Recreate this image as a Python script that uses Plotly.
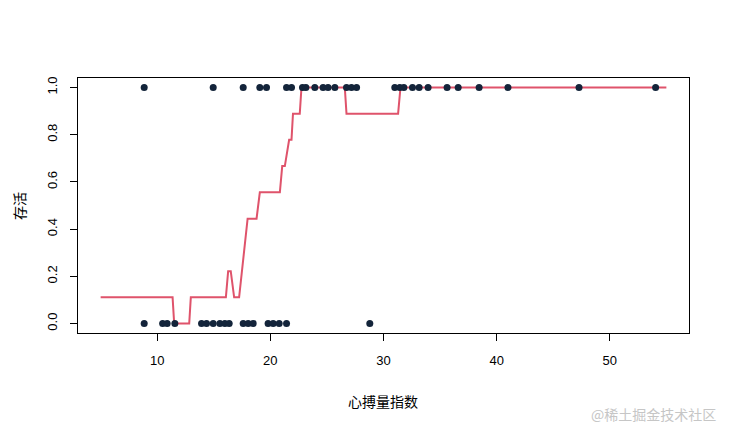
import plotly.graph_objects as go

# Observed points (survived = 1 / died = 0)
x_alive = [8.85, 14.95, 17.6, 19.07, 19.66, 21.43, 21.87, 22.84, 23.14, 23.93, 24.66, 25.1,
           25.7, 26.73, 27.17, 27.62, 31.0, 31.44, 31.8, 32.56, 33.15, 33.94, 35.62, 36.6,
           38.45, 41.0, 47.28, 54.05]
y_alive = [1] * len(x_alive)
x_dead = [8.85, 10.48, 10.88, 11.56, 13.92, 14.36, 14.95, 15.54, 15.98, 16.36, 17.6, 18.04,
          18.48, 19.8, 20.25, 20.78, 21.43, 28.79]
y_dead = [0] * len(x_dead)

# Smoothed step curve
curve_x = [5, 11.36, 11.5, 12.83, 12.97, 16.07, 16.27, 16.5, 16.8, 17.24, 17.99, 18.78, 19.07,
           20.84, 21.05, 21.28, 21.66, 21.87, 22.0, 22.6, 22.75, 26.58, 26.73, 31.29, 31.5, 55]
curve_y = [0.111, 0.111, 0, 0, 0.111, 0.111, 0.222, 0.222, 0.111, 0.111, 0.444, 0.444, 0.556,
           0.556, 0.667, 0.667, 0.778, 0.778, 0.889, 0.889, 1.0, 1.0, 0.889, 0.889, 1.0, 1.0]

x_ticks = [10, 20, 30, 40, 50]
y_ticks = [0.0, 0.2, 0.4, 0.6, 0.8, 1.0]
y_tick_text = ["0.0", "0.2", "0.4", "0.6", "0.8", "1.0"]

point_color = "#13243a"
line_color = "#DF536B"

fig = go.Figure()
fig.add_trace(go.Scatter(x=curve_x, y=curve_y, mode="lines",
                         line=dict(color=line_color, width=2), showlegend=False))
fig.add_trace(go.Scatter(x=x_dead + x_alive, y=y_dead + y_alive, mode="markers",
                         marker=dict(color=point_color, size=7), showlegend=False,
                         cliponaxis=False))

font_fam = "Liberation Sans, Arial, sans-serif"
cjk = "Noto Sans CJK SC, sans-serif"

# page body has an 8px margin, so the figure is drawn 8px smaller and offset
OFF = 8
W, H = 730 - OFF, 431 - OFF
L, R, T, B = 78 - OFF, 41, 78 - OFF, 98
plot_h = H - T - B
plot_w = W - L - R

def px_to_paper_x(px):
    return (px - OFF - L) / plot_w

def px_to_paper_y(py):
    return (H - B - (py - OFF)) / plot_h

fig.update_layout(
    width=W, height=H,
    margin=dict(l=L, r=R, t=T, b=B, autoexpand=False),
    paper_bgcolor="white", plot_bgcolor="white",
    font=dict(family=font_fam, size=13, color="black"),
    xaxis=dict(range=[3, 57], tickvals=x_ticks, ticks="outside", ticklen=7, tickwidth=1,
               tickcolor="black", showline=True, linecolor="black", linewidth=1, mirror=True,
               showgrid=False, zeroline=False, ticklabelstandoff=8, automargin=False,
               tickfont=dict(family=font_fam, size=13)),
    yaxis=dict(range=[-0.04, 1.04], tickvals=y_ticks, ticktext=y_tick_text, ticks="outside",
               ticklen=7, tickwidth=1, tickcolor="black", showline=True, linecolor="black",
               linewidth=1, mirror=True, showgrid=False, zeroline=False, tickangle=-90,
               ticklabelstandoff=8, automargin=False, tickfont=dict(family=font_fam, size=13)),
    annotations=[
        dict(text="心搏量指数", x=px_to_paper_x(383), y=px_to_paper_y(401),
             xref="paper", yref="paper", xanchor="center", yanchor="middle", showarrow=False,
             font=dict(family=cjk, size=14, color="black")),
        dict(text="存活", textangle=-90, x=px_to_paper_x(19), y=px_to_paper_y(206),
             xref="paper", yref="paper", xanchor="center", yanchor="middle", showarrow=False,
             font=dict(family=cjk, size=14, color="black")),
        dict(text="@稀土掘金技术社区", x=px_to_paper_x(718), y=px_to_paper_y(414),
             xref="paper", yref="paper", xanchor="right", yanchor="middle", showarrow=False,
             font=dict(family=cjk, size=14, color="#c6c6c6")),
    ],
)

fig.write_html("out.html")
